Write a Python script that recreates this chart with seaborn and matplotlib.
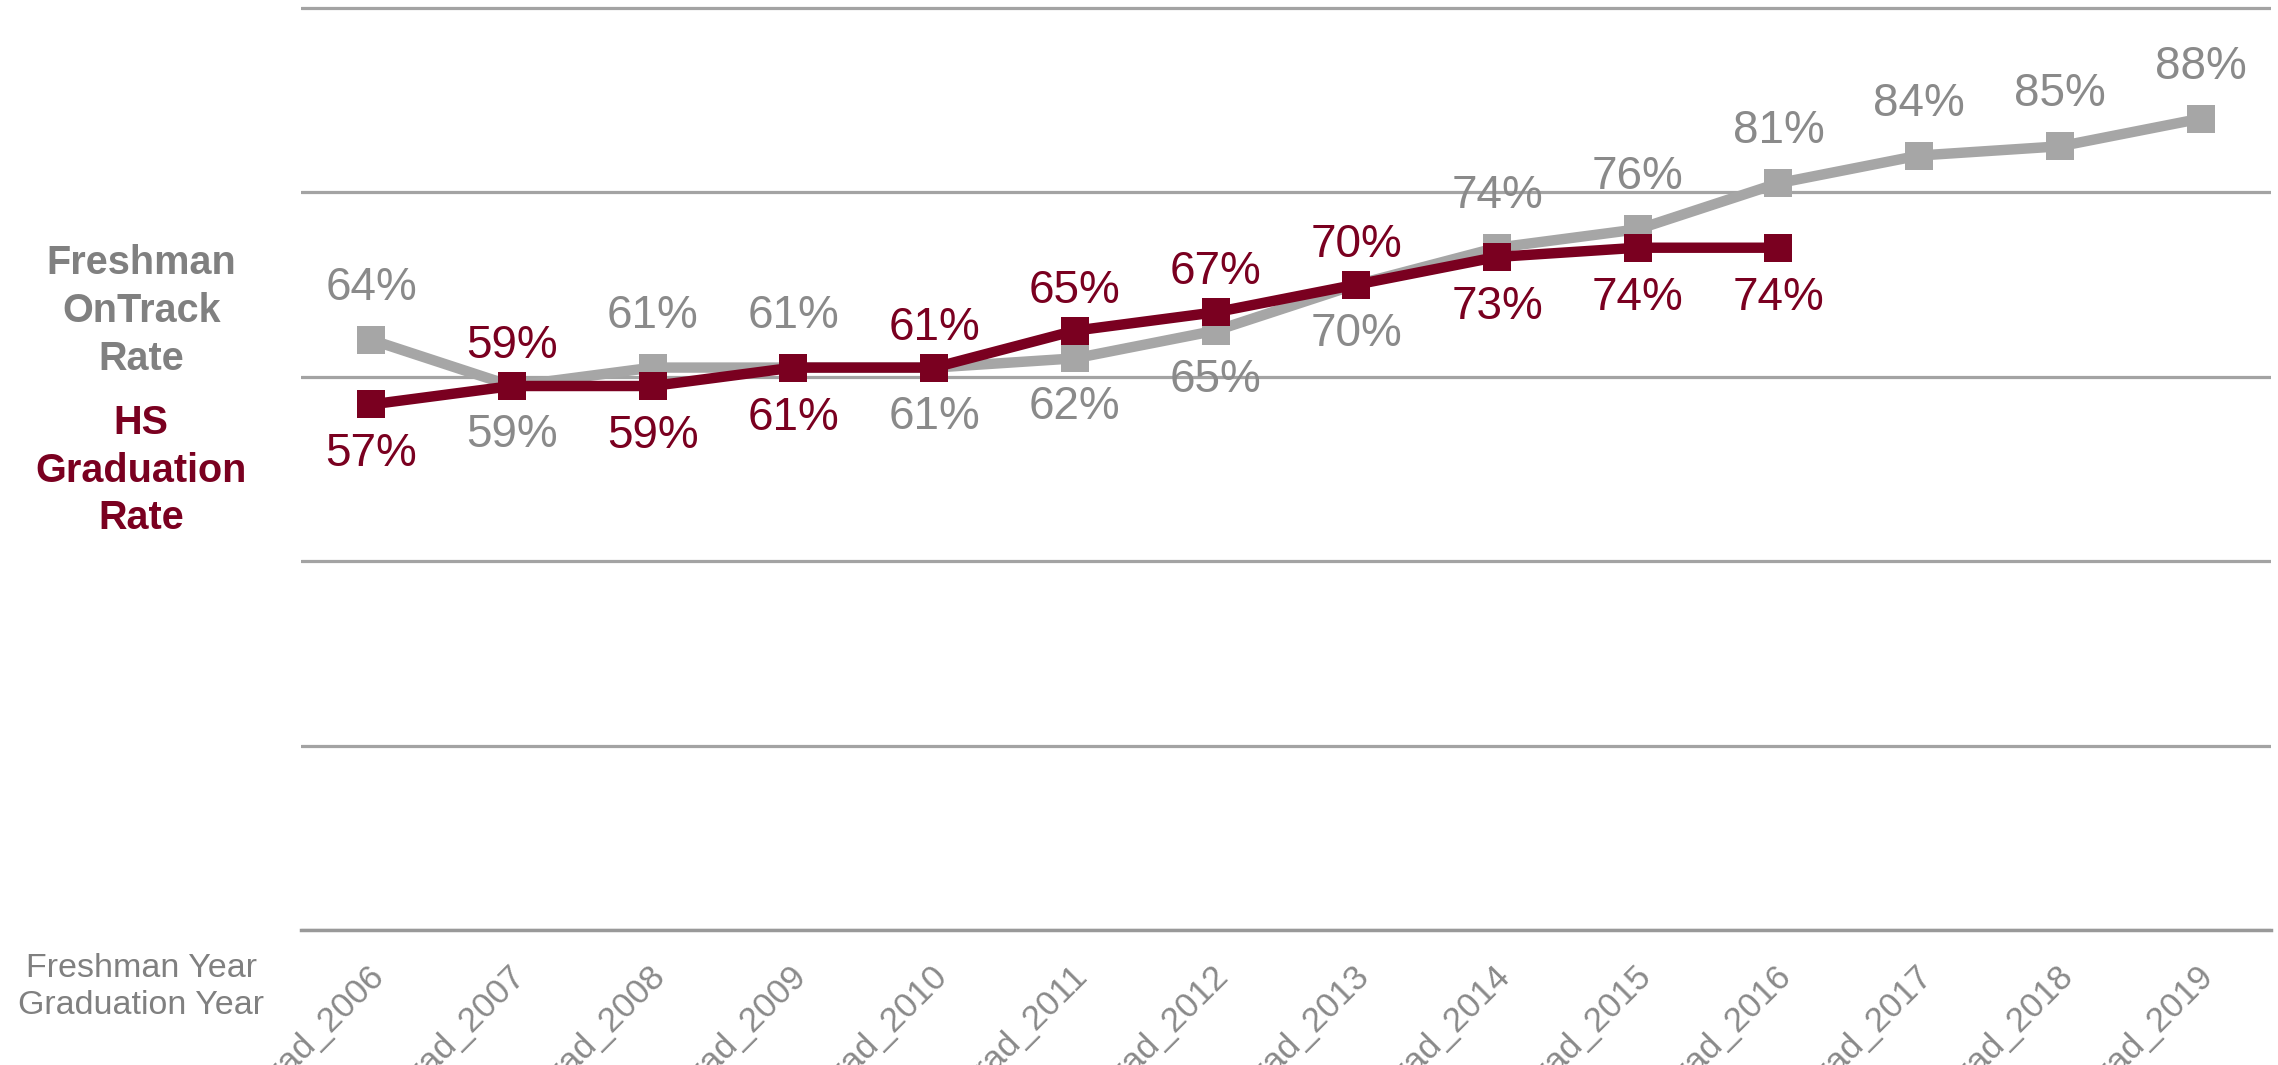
import pandas as pd
import numpy as np
import seaborn as sns
import matplotlib.pyplot as plt
import matplotlib.transforms as mtransforms
from matplotlib.ticker import MultipleLocator

# data
years = ['Grad_2006', 'Grad_2007', 'Grad_2008', 'Grad_2009', 'Grad_2010', 'Grad_2011', 'Grad_2012',
         'Grad_2013', 'Grad_2014', 'Grad_2015', 'Grad_2016', 'Grad_2017', 'Grad_2018', 'Grad_2019']
ontrack = [64, 59, 61, 61, 61, 62, 65, 70, 74, 76, 81, 84, 85, 88]
hs_grad = [57, 59, 59, 61, 61, 65, 67, 70, 73, 74, 74]
ontrack_side = ['up', 'down', 'up', 'up', 'down', 'down', 'down', 'down', 'up', 'up', 'up', 'up', 'up', 'up']
hs_grad_side = ['down', 'up', 'down', 'down', 'up', 'up', 'up', 'up', 'down', 'down', 'down']

gray_line = '#a6a6a6'
gray_text = '#8a8a8a'
maroon = '#7a0020'

df = pd.DataFrame({
    'year': years * 2,
    'rate': ontrack + hs_grad + [np.nan] * (len(years) - len(hs_grad)),
    'series': ['Freshman OnTrack'] * len(years) + ['HS Graduation'] * len(years),
})

sns.set_style('white')
plt.rcParams['font.family'] = ['Liberation Sans', 'DejaVu Sans']

fig = plt.figure(figsize=(22.78, 10.65), dpi=100)
ax = fig.add_axes([0.1321, 0.1268, 0.8648, 0.870])

sns.lineplot(data=df, x='year', y='rate', hue='series', sort=False,
             palette={'Freshman OnTrack': gray_line, 'HS Graduation': maroon},
             marker='s', markersize=20, markeredgewidth=0, linewidth=7.5,
             legend=False, ax=ax)

ax.set_ylim(0, 100.5)
ax.set_xlim(-0.5, len(years) - 0.5)
ax.set_yticks([0, 20, 40, 60, 80, 100])
ax.yaxis.grid(True, color='#a3a3a3', linewidth=2.3)
ax.xaxis.grid(False)
ax.tick_params(axis='y', length=0, labelleft=False)
for s in ['left', 'right', 'top']:
    ax.spines[s].set_visible(False)
ax.spines['bottom'].set_color('#999999')
ax.spines['bottom'].set_linewidth(2.5)

# tick marks sit on category boundaries, labels on centres
ax.xaxis.set_minor_locator(MultipleLocator(1, offset=0.5))
ax.tick_params(axis='x', which='minor', length=11, width=2, color='#999999', direction='out')
ax.tick_params(axis='x', which='major', length=0, pad=21, labelsize=25, labelcolor='#8a8a8a')
shift = mtransforms.ScaledTranslation(-4 / 100, 0, fig.dpi_scale_trans)
for lab in ax.get_xticklabels():
    lab.set_rotation(45)
    lab.set_ha('right')
    lab.set_va('top')
    lab.set_rotation_mode('anchor')
    lab.set_transform(lab.get_transform() + shift)
ax.set_xlabel('')
ax.set_ylabel('')

def put_labels(vals, sides, color, up, down):
    for i, (v, side) in enumerate(zip(vals, sides)):
        dy = up if side == 'up' else -down
        ax.annotate(f'{v}%', (i, v), xytext=(0, dy), textcoords='offset pixels',
                    ha='center', va='center', fontsize=33, color=color)

put_labels(ontrack, ontrack_side, gray_text, 52, 49)
put_labels(hs_grad, hs_grad_side, maroon, 40, 50)

fig.text(0.062, 0.708, 'Freshman\nOnTrack\nRate', ha='center', va='center',
         fontsize=28.5, fontweight='bold', color='#808080', linespacing=1.32)
fig.text(0.062, 0.558, 'HS\nGraduation\nRate', ha='center', va='center',
         fontsize=28.5, fontweight='bold', color=maroon, linespacing=1.32)
fig.text(0.062, 0.073, 'Freshman Year\nGraduation Year', ha='center', va='center',
         fontsize=24.5, color='#808080', linespacing=1.25)

plt.savefig('out.png', dpi=100)
